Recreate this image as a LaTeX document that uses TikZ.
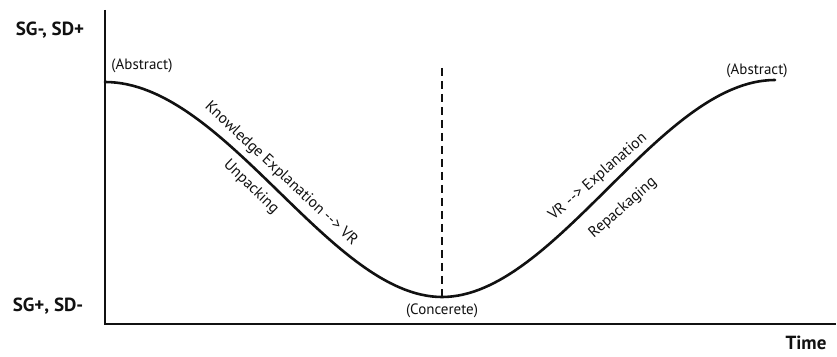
\documentclass[tikz,border=0pt]{standalone}
\usepackage{fontspec}
\setmainfont{PT Sans}
\usepackage{tikz}
\usetikzlibrary{positioning, calc}
\definecolor{inkblack}{HTML}{111111}
\tikzset{
  % Axis lines
  axisline/.style={line width=2.6pt, draw=inkblack},
  % Semantic wave
  waveline/.style={line width=2.6pt, draw=inkblack, line cap=round},
  % Divider
  divider/.style={line width=1.6pt, draw=inkblack, dash pattern=on 8pt off 5pt},
  % Axis titles
  axislabel/.style={font=\fontsize{19}{21}\selectfont\bfseries, text=inkblack, inner sep=0pt},
  % Abstract / concrete labels
  statelabel/.style={font=\fontsize{15}{17}\selectfont, text=inkblack, inner sep=0pt},
  % Labels along the wave
  phaselabel/.style={font=\fontsize{15.5}{17}\selectfont, text=inkblack, inner sep=0pt},
}
\begin{document}
\begin{tikzpicture}[x=1pt, y=1pt]
  \useasboundingbox (0,0) rectangle (837,356);

  % Axes
  \coordinate (origin) at (105,32);
  \coordinate (y-top) at (105,346);
  \coordinate (x-end) at (836,32);
  \draw[axisline] (y-top) -- (origin) -- (x-end);

  \node[axislabel] (sg-top) at (50,326) {SG-, SD+};
  \node[axislabel] (sg-bot) at (48,50) {SG+, SD-};
  \node[axislabel] (time) at (806,13) {Time};

  % Wave
  \coordinate (abs-l) at (105,274);
  \coordinate (conc) at (442,59);
  \coordinate (abs-r) at (775,276);
  \draw[waveline] (abs-l) .. controls (225,274) and (330,59) .. (conc)
    .. controls (555,59) and (660,276) .. (abs-r);

  % Divider
  \coordinate (div-top) at (442,288);
  \draw[divider] (div-top) -- (conc);

  % State labels
  \node[statelabel] (abs-l-lbl) at (142,290) {(Abstract)};
  \node[statelabel] (abs-r-lbl) at (757,285) {(Abstract)};
  \node[statelabel] (conc-lbl) at (442,45) {(Concerete)};

  % Phase labels
  \node[phaselabel, rotate=-43] (knowledge) at (281,182) {Knowledge Explanation -{}-{}> VR};
  \node[phaselabel, rotate=-44] (unpack) at (251,169) {Unpacking};
  \node[phaselabel, rotate=41] (vr-expl) at (598,179) {VR -{}-{}> Explanation};
  \node[phaselabel, rotate=41] (repack) at (623,148) {Repackaging};

\end{tikzpicture}
\end{document}
